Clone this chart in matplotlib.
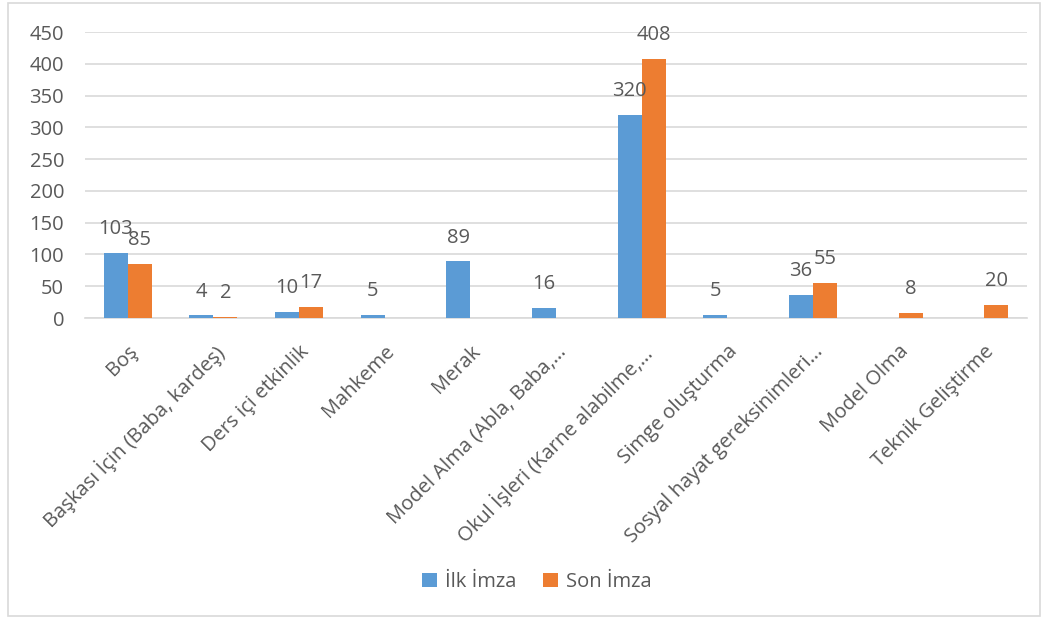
import numpy as np
import matplotlib
matplotlib.use("Agg")
import matplotlib.pyplot as plt
from matplotlib.patches import Rectangle

plt.rcParams['font.family'] = ['Open Sans', 'DejaVu Sans']

categories = ["Boş", "Başkası İçin (Baba, kardeş)", "Ders içi etkinlik", "Mahkeme", "Merak",
              "Model Alma (Abla, Baba,…", "Okul İşleri (Karne alabilme,…", "Simge oluşturma",
              "Sosyal hayat gereksinimleri…", "Model Olma", "Teknik Geliştirme"]
ilk_imza = [103, 4, 10, 5, 89, 16, 320, 5, 36, None, None]
son_imza = [85, 2, 17, None, None, None, 408, None, 55, 8, 20]
series_names = ["İlk İmza", "Son İmza"]
yticks = [0, 50, 100, 150, 200, 250, 300, 350, 400, 450]

blue = "#5B9BD5"
orange = "#ED7D31"
text_color = "#595959"
grid_color = "#D9D9D9"
FS = 14.5

W, H = 1049, 619
fig = plt.figure(figsize=(W / 100, H / 100), dpi=100)
fig.patches.append(Rectangle((8 / W, 1 - 616 / H), (1040 - 8) / W, (616 - 3) / H,
                             transform=fig.transFigure, fill=False,
                             edgecolor="#D9D9D9", linewidth=1.2))

ax = fig.add_axes([85 / W, 1 - 318 / H, (1027 - 85) / W, (318 - 32) / H])

x = np.arange(len(categories))
bw = 0.28
for vals, off, color, name in [(ilk_imza, -bw / 2, blue, series_names[0]),
                               (son_imza, bw / 2, orange, series_names[1])]:
    v = np.array([np.nan if a is None else a for a in vals], dtype=float)
    ax.bar(x + off, np.nan_to_num(v), width=bw, color=color, label=name, zorder=3)
    for xi, val in zip(x + off, v):
        if not np.isnan(val):
            ax.annotate(f"{int(val)}", (xi, val), xytext=(0, 10),
                        textcoords="offset points", ha="center", va="bottom",
                        fontsize=FS, color=text_color, zorder=4)

ax.set_xlim(-0.5, len(categories) - 0.5)
ax.set_ylim(0, 450)
ax.set_yticks(yticks)
ax.set_yticklabels([str(t) for t in yticks], fontsize=FS, color=text_color)
ax.grid(axis="y", color=grid_color, linewidth=1.2, zorder=0)
ax.set_axisbelow(True)
for s in ["top", "right", "left"]:
    ax.spines[s].set_visible(False)
ax.spines["bottom"].set_color(grid_color)
ax.spines["bottom"].set_linewidth(1.2)
ax.tick_params(axis="both", length=0)
ax.tick_params(axis="y", pad=15)

ax.set_xticks(x)
ax.set_xticklabels(categories, rotation=45, ha="right", rotation_mode="anchor",
                   fontsize=FS, color=text_color)
ax.tick_params(axis="x", pad=17)

leg = fig.legend(loc="center", bbox_to_anchor=(537 / W, 1 - 582 / H), ncol=2,
                 frameon=False, fontsize=FS, handlelength=0.75, handleheight=0.75,
                 columnspacing=1.3, handletextpad=0.4)
for t in leg.get_texts():
    t.set_color(text_color)

fig.savefig("out.png", dpi=100)
